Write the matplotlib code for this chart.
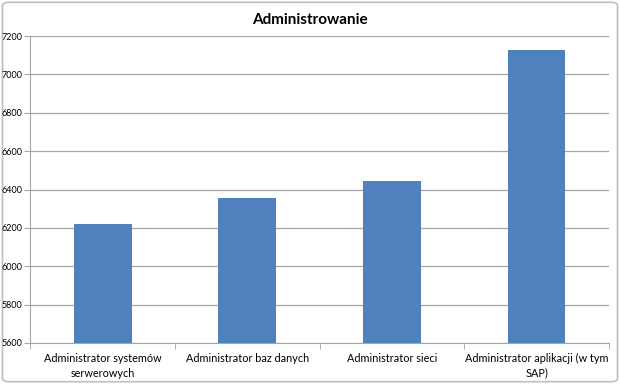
import matplotlib
matplotlib.use('Agg')
import matplotlib.pyplot as plt
from matplotlib.patches import FancyBboxPatch

categories = ['Administrator systemów\nserwerowych', 'Administrator baz danych',
              'Administrator sieci', 'Administrator aplikacji (w tym\nSAP)']
values = [6220, 6357, 6444, 7128]
yticks = [5600, 5800, 6000, 6200, 6400, 6600, 6800, 7000, 7200]

BAR = '#4F81BD'
GRID = '#A6A6A6'

plt.rcParams['font.family'] = ['Lato', 'DejaVu Sans']

fig = plt.figure(figsize=(6.2, 3.84), dpi=100)
fig.patch.set_facecolor('white')

# outer chart border, drawn beneath the axes
border = FancyBboxPatch((0.004, 0.006), 0.992, 0.988, boxstyle='round,pad=0,rounding_size=0.01',
                        transform=fig.transFigure, facecolor='white', edgecolor='#BFBFBF',
                        linewidth=1.2, zorder=-10)
fig.patches.append(border)

ax = fig.add_axes([0.049, 0.107, 0.933, 0.799])
ax.set_facecolor('none')
x = list(range(len(categories)))
ax.bar(x, values, width=0.4, color=BAR, zorder=3)

ax.set_xlim(-0.5, len(categories) - 0.5)
ax.set_ylim(yticks[0], yticks[-1])
ax.set_yticks(yticks)
ax.set_yticklabels([str(t) for t in yticks], fontsize=6.5)
ax.yaxis.grid(True, color=GRID, linewidth=0.9, zorder=0)

ax.set_xticks(x)
ax.set_xticklabels(categories, fontsize=7.8, linespacing=1.45)
ax.tick_params(axis='x', length=0, pad=7)
ax.set_xticks([i + 0.5 for i in range(-1, len(categories))], minor=True)
ax.tick_params(axis='x', which='minor', length=4, color=GRID, direction='out')
ax.tick_params(axis='y', length=4, color=GRID, pad=2)

for s in ['top', 'right']:
    ax.spines[s].set_visible(False)
ax.spines['left'].set_color(GRID)
ax.spines['bottom'].set_color(GRID)

fig.text(0.5, 0.948, 'Administrowanie', ha='center', va='center',
         fontsize=11, fontweight='bold', color='black')

plt.savefig('out.png', dpi=100, facecolor=fig.get_facecolor())
plt.close()
